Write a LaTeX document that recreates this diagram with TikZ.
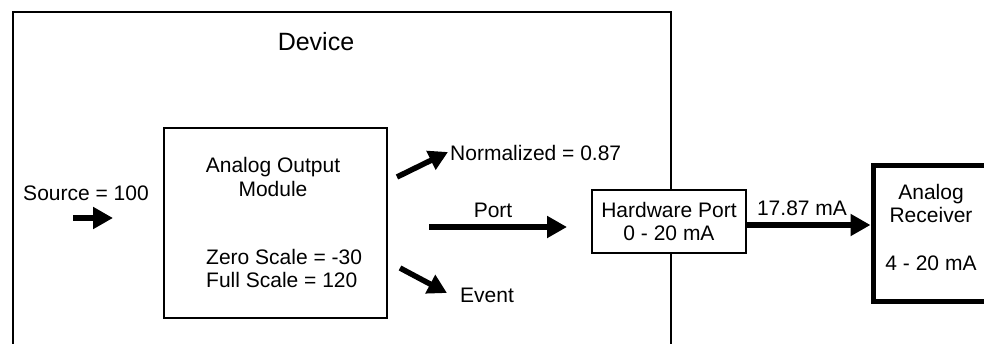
\documentclass[tikz,border=0pt]{standalone}
\usepackage{fontspec}
\setmainfont{Liberation Sans}
\usetikzlibrary{arrows.meta}
\begin{document}
\begin{tikzpicture}[x=1pt,y=-1pt,
  txt/.style={font=\fontsize{21}{23.5}\selectfont, inner sep=0pt, align=center},
  bigtxt/.style={font=\fontsize{25}{28}\selectfont, inner sep=0pt},
  box/.style={draw, line width=2pt, fill=white, inner sep=0pt},
  fat/.style={line width=6.5pt, -{Triangle[length=20pt,width=21pt]}},
  slim/.style={line width=5.5pt, -{Triangle[length=19pt,width=20pt]}}
]
\clip (0,0) rectangle (984,343);
\fill[white] (0,0) rectangle (984,343);
% outer device box (open at the bottom of the picture)
\node[box, anchor=north west, minimum width=658pt, minimum height=349pt] (device) at (12,11) {};
\node[bigtxt] (devlabel) at (316,42) {Device};
% analog output module
\node[box, minimum width=223pt, minimum height=190pt] (aom) at (275.5,223) {};
\node[txt] (aomname) at (273,177) {Analog Output\\Module};
\node[txt, align=left, anchor=west] (aomscale) at (206,268.5) {Zero Scale = -30\\Full Scale = 120};
% hardware port
\node[box, txt, draw, line width=2pt, minimum width=154pt, minimum height=63pt] (hw) at (669,221.5) {Hardware Port\\0 - 20 mA};
% analog receiver (open at the right edge)
\node[draw, line width=5pt, fill=white, inner sep=0pt, minimum width=118pt, minimum height=136pt] (rx) at (932,233) {};
\node[txt] (rxname) at (931,203.5) {Analog\\Receiver};
\node[txt] (rxrange) at (931,263) {4 - 20 mA};
% source
\node[txt] (src) at (86,193) {Source = 100};
\coordinate (srcA) at (73,218);
\coordinate (srcB) at (113,218);
\draw[fat] (srcA) -- (srcB);
% normalized
\coordinate (nA) at (397,177);
\coordinate (nB) at (448,152);
\draw[slim] (nA) -- (nB);
\node[txt, anchor=west] (norm) at (450,153) {Normalized = 0.87};
% port
\coordinate (pA) at (429,227);
\coordinate (pB) at (567,227);
\draw[fat] (pA) -- (pB);
\node[txt] (port) at (493,210) {Port};
% event
\coordinate (eA) at (400,268);
\coordinate (eB) at (447,293);
\draw[slim] (eA) -- (eB);
\node[txt] (event) at (487,295) {Event};
% output current
\coordinate (hwout) at (hw.east |- 0,225);
\coordinate (rxin) at (rx.west |- 0,225);
\draw[fat] (hwout) -- (rxin);
\node[txt] (cur) at (802,208) {17.87 mA};
\end{tikzpicture}
\end{document}
